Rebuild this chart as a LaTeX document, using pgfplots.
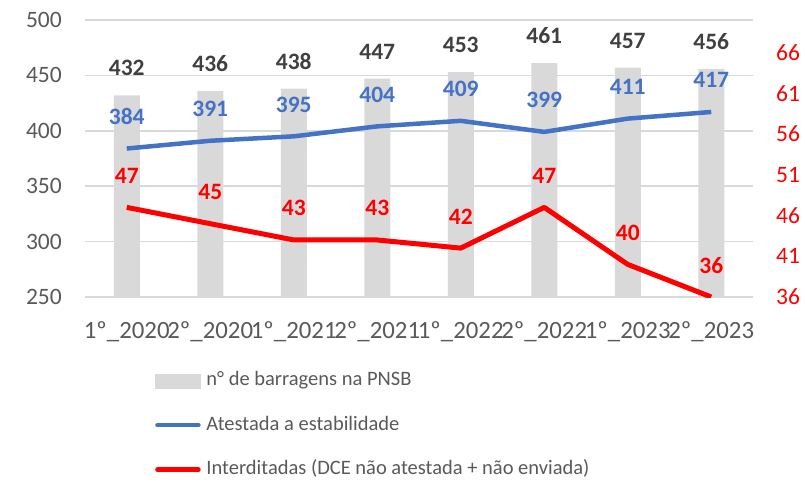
\documentclass[border=0pt]{standalone}
\usepackage{pgfplots}
\pgfplotsset{compat=1.18}
\usepackage{fontspec}
\setmainfont{Carlito}
\definecolor{bargray}{HTML}{D9D9D9}
\definecolor{myblue}{HTML}{4472C4}
\definecolor{myred}{HTML}{FF0000}
\definecolor{ticktext}{HTML}{595959}
\definecolor{labeltext}{HTML}{404040}
\begin{document}
\begin{tikzpicture}[x=1pt,y=1pt]
\path[use as bounding box] (0,0) rectangle (805,482);
\pgfplotsset{
  common/.style={
    at={(85pt,185pt)}, anchor=south west,
    scale only axis, width=668pt, height=277pt,
    xmin=-0.5, xmax=7.5,
    axis line style={draw=none},
    major tick length=0pt,
    tick label style={font=\fontsize{23.5}{23.5}\selectfont, inner sep=0pt},
    /pgf/number format/assume math mode=true,
  }
}
\begin{axis}[common,
  ymin=250, ymax=500,
  ytick={250,300,...,500},
  xtick={0,...,7},
  xticklabels={1º\_2020,2º\_2020,1º\_2021,2º\_2021,1º\_2022,2º\_2022,1º\_2023,2º\_2023},
  ymajorgrids, grid style={bargray, line width=1.5pt},
  tick label style={text=ticktext},
  yticklabel style={xshift=-23pt},
  xticklabel style={anchor=north, yshift=-24pt, font=\fontsize{24.8}{24.8}\selectfont},
]
\addplot[ybar, bar width=26pt, fill=bargray, draw=none,
  nodes near coords,
  every node near coord/.append style={font=\bfseries\fontsize{23.5}{23.5}\selectfont, text=labeltext, anchor=base, inner sep=0pt, yshift=19.5pt}]
  coordinates {(0,432) (1,436) (2,438) (3,447) (4,453) (5,461) (6,457) (7,456)};
\addplot[myblue, line width=4.5pt, line join=round, mark=none,
  nodes near coords,
  every node near coord/.append style={font=\bfseries\fontsize{23.5}{23.5}\selectfont, text=myblue, anchor=base, inner sep=0pt, yshift=24pt}]
  coordinates {(0,384) (1,391) (2,395) (3,404) (4,409) (5,399) (6,411) (7,417)};
\end{axis}
\begin{axis}[common,
  ymin=36, ymax=70,
  ytick={36,41,...,66},
  axis x line=none,
  axis y line*=right,
  tick label style={text=myred},
  yticklabel style={anchor=west, xshift=23pt},
  legend style={at={(0.1048,-0.2690)}, anchor=north west, draw=none, fill=none,
    inner sep=0pt, font=\fontsize{20.5}{20.5}\selectfont, text=ticktext,
    nodes={inner sep=0pt, text height=14pt, text depth=4pt},
    row sep=26.5pt},
  legend cell align=left,
]
\addlegendimage{legend image code/.code={\fill[bargray] (0pt,-7pt) rectangle (45pt,7pt); \path (48.5pt,0pt);}}
\addlegendentry{n° de barragens na PNSB}
\addlegendimage{legend image code/.code={\draw[myblue, line width=4.5pt, line cap=round] (2pt,0pt) -- (43pt,0pt); \path (48.5pt,0pt);}}
\addlegendentry{Atestada a estabilidade}
\addplot[myred, line width=5pt, line join=round, mark=none,
  nodes near coords,
  every node near coord/.append style={font=\bfseries\fontsize{23.5}{23.5}\selectfont, text=myred, anchor=base, inner sep=0pt, yshift=24pt},
  legend image code/.code={\draw[myred, line width=4.5pt, line cap=round] (2pt,0pt) -- (43pt,0pt); \path (48.5pt,0pt);}]
  coordinates {(0,47) (1,45) (2,43) (3,43) (4,42) (5,47) (6,40) (7,36)};
\addlegendentry{Interditadas (DCE não atestada + não enviada)}
\end{axis}
\end{tikzpicture}
\end{document}
